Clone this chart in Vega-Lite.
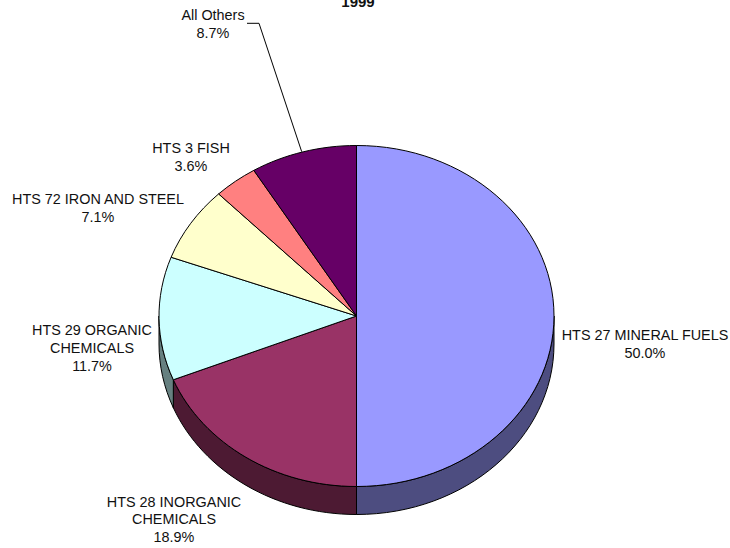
{
"$schema":"https://vega.github.io/schema/vega-lite/v6.json",
"width":730,"height":548,"padding":0,
"autosize":{"type":"none"},
"background":"white",
"config":{"view":{"stroke":null},"text":{"font":"Liberation Sans","fontSize":14.4,"fill":"#111111","lineBreak":"|","lineHeight":17.8}},
"data":{"values":[
{"category":"HTS 27 MINERAL FUELS","share":50.0,"label":"HTS 27 MINERAL FUELS|50.0%"},
{"category":"HTS 28 INORGANIC CHEMICALS","share":18.9,"label":"HTS 28 INORGANIC|CHEMICALS|18.9%"},
{"category":"HTS 29 ORGANIC CHEMICALS","share":11.7,"label":"HTS 29 ORGANIC|CHEMICALS|11.7%"},
{"category":"HTS 72 IRON AND STEEL","share":7.1,"label":"HTS 72 IRON AND STEEL|7.1%"},
{"category":"HTS 3 FISH","share":3.6,"label":"HTS 3 FISH|3.6%"},
{"category":"All Others","share":8.7,"label":"All Others|8.7%"}
]},
"resolve":{"scale":{"shape":"independent","color":"independent"}},
"layer":[
{"transform":[{"filter":"datum.share>=11.7"}],
 "mark":{"type":"point","filled":true,"stroke":"black","strokeWidth":1,"opacity":1,"fillOpacity":1,"strokeOpacity":1,"size":40000},
 "encoding":{
  "x":{"datum":356.5,"type":"quantitative","scale":{"domain":[0,730]},"axis":null},
  "y":{"datum":316,"type":"quantitative","scale":{"domain":[548,0]},"axis":null},
  "shape":{"field":"category","type":"nominal","legend":null,"scale":{"domain":["HTS 27 MINERAL FUELS","HTS 28 INORGANIC CHEMICALS","HTS 29 ORGANIC CHEMICALS"],"range":[
   "M1.975,0 A1.975,1.705 0 0 1 0,1.705 L0,1.985 A1.975,1.705 0 0 0 1.975,0.28 Z",
   "M0,1.705 A1.975,1.705 0 0 1 -1.8316,0.6378 L-1.8316,0.9178 A1.975,1.705 0 0 0 0,1.985 Z",
   "M-1.8316,0.6378 A1.975,1.705 0 0 1 -1.975,0 L-1.975,0.28 A1.975,1.705 0 0 0 -1.8316,0.9178 Z"]}},
  "color":{"field":"category","type":"nominal","legend":null,"scale":{"domain":["HTS 27 MINERAL FUELS","HTS 28 INORGANIC CHEMICALS","HTS 29 ORGANIC CHEMICALS"],"range":["#4D4D80","#4D1A33","#668080"]}}
 }},
{"mark":{"type":"point","filled":true,"stroke":"black","strokeWidth":1,"opacity":1,"fillOpacity":1,"strokeOpacity":1,"size":40000},
 "encoding":{
  "x":{"datum":356.5,"type":"quantitative","scale":{"domain":[0,730]},"axis":null},
  "y":{"datum":316,"type":"quantitative","scale":{"domain":[548,0]},"axis":null},
  "shape":{"field":"category","type":"nominal","legend":null,"scale":{"domain":["HTS 27 MINERAL FUELS","HTS 28 INORGANIC CHEMICALS","HTS 29 ORGANIC CHEMICALS","HTS 72 IRON AND STEEL","HTS 3 FISH","All Others"],"range":[
   "M0,0 L0,-1.705 A1.975,1.705 0 0 1 0,1.705 Z",
   "M0,0 L0,1.705 A1.975,1.705 0 0 1 -1.8316,0.6378 Z",
   "M0,0 L-1.8316,0.6378 A1.975,1.705 0 0 1 -1.854,-0.5876 Z",
   "M0,0 L-1.854,-0.5876 A1.975,1.705 0 0 1 -1.3787,-1.2208 Z",
   "M0,0 L-1.3787,-1.2208 A1.975,1.705 0 0 1 -1.0268,-1.4564 Z",
   "M0,0 L-1.0268,-1.4564 A1.975,1.705 0 0 1 0,-1.705 Z"]}},
  "color":{"field":"category","type":"nominal","legend":null,"scale":{"domain":["HTS 27 MINERAL FUELS","HTS 28 INORGANIC CHEMICALS","HTS 29 ORGANIC CHEMICALS","HTS 72 IRON AND STEEL","HTS 3 FISH","All Others"],"range":["#9999FF","#993366","#CCFFFF","#FFFFCC","#FF8080","#660066"]}}
 }},
{"transform":[{"filter":"datum.category==='All Others'"}],
 "mark":{"type":"point","filled":false,"stroke":"black","strokeWidth":1,"opacity":1,"size":40000,"shape":"M-1.095,-2.927 L-0.975,-2.927 L-0.548,-1.643"},
 "encoding":{
  "x":{"datum":356.5,"type":"quantitative","scale":{"domain":[0,730]},"axis":null},
  "y":{"datum":316,"type":"quantitative","scale":{"domain":[548,0]},"axis":null}
 }},
{"transform":[{"filter":"datum.category==='HTS 27 MINERAL FUELS'"}],"mark":{"type":"text"},
 "encoding":{"text":{"field":"label"},"x":{"datum":645,"type":"quantitative","scale":{"domain":[0,730]},"axis":null},"y":{"datum":336,"type":"quantitative","scale":{"domain":[548,0]},"axis":null}}},
{"transform":[{"filter":"datum.category==='HTS 28 INORGANIC CHEMICALS'"}],"mark":{"type":"text"},
 "encoding":{"text":{"field":"label"},"x":{"datum":174,"type":"quantitative","scale":{"domain":[0,730]},"axis":null},"y":{"datum":502.5,"type":"quantitative","scale":{"domain":[548,0]},"axis":null}}},
{"transform":[{"filter":"datum.category==='HTS 29 ORGANIC CHEMICALS'"}],"mark":{"type":"text"},
 "encoding":{"text":{"field":"label"},"x":{"datum":92,"type":"quantitative","scale":{"domain":[0,730]},"axis":null},"y":{"datum":331,"type":"quantitative","scale":{"domain":[548,0]},"axis":null}}},
{"transform":[{"filter":"datum.category==='HTS 72 IRON AND STEEL'"}],"mark":{"type":"text"},
 "encoding":{"text":{"field":"label"},"x":{"datum":98,"type":"quantitative","scale":{"domain":[0,730]},"axis":null},"y":{"datum":200,"type":"quantitative","scale":{"domain":[548,0]},"axis":null}}},
{"transform":[{"filter":"datum.category==='HTS 3 FISH'"}],"mark":{"type":"text"},
 "encoding":{"text":{"field":"label"},"x":{"datum":191,"type":"quantitative","scale":{"domain":[0,730]},"axis":null},"y":{"datum":149,"type":"quantitative","scale":{"domain":[548,0]},"axis":null}}},
{"transform":[{"filter":"datum.category==='All Others'"}],"mark":{"type":"text"},
 "encoding":{"text":{"field":"label"},"x":{"datum":213,"type":"quantitative","scale":{"domain":[0,730]},"axis":null},"y":{"datum":16,"type":"quantitative","scale":{"domain":[548,0]},"axis":null}}},
{"transform":[{"filter":"datum.category==='All Others'"}],"mark":{"type":"text","fontWeight":"bold","baseline":"alphabetic","fontSize":15},
 "encoding":{"text":{"value":"1999"},"x":{"datum":358,"type":"quantitative","scale":{"domain":[0,730]},"axis":null},"y":{"datum":7,"type":"quantitative","scale":{"domain":[548,0]},"axis":null}}}
]
}
